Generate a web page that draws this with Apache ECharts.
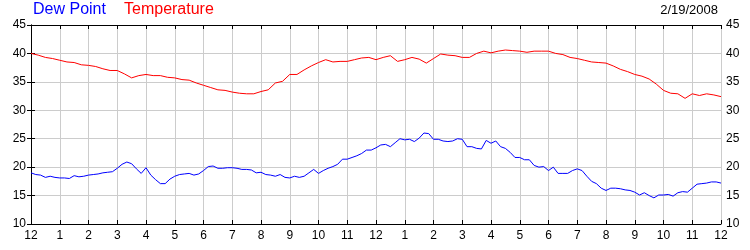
<!DOCTYPE html>
<html>
<head>
<meta charset="utf-8">
<script src="https://cdn.jsdelivr.net/npm/echarts@6/dist/echarts.min.js"></script>
<style>
html,body{margin:0;padding:0;background:#fff;}
#chart{width:750px;height:250px;}
</style>
</head>
<body>
<div id="chart"></div>
<script>
// Hour tick labels (0..24)
var hourLabels = ['12','1','2','3','4','5','6','7','8','9','10','11','12','1','2','3','4','5','6','7','8','9','10','11','12'];
var yTicks = [10, 15, 20, 25, 30, 35, 40, 45];
var dateLabel = '2/19/2008';

// Temperature, every 15 minutes from 12 AM to 12 AM
var temperature = [
  40.0, 39.7, 39.3, 39.1,
  38.8, 38.5, 38.4, 38.0,
  37.9, 37.7, 37.3, 37.0,
  37.0, 36.4, 35.7, 36.1,
  36.3, 36.1, 36.1, 35.8,
  35.7, 35.4, 35.3, 34.8,
  34.4, 34.0, 33.6, 33.5,
  33.2, 33.0, 32.9, 32.9,
  33.3, 33.6, 34.8, 35.1,
  36.3, 36.3, 37.1, 37.8,
  38.4, 38.9, 38.5, 38.6,
  38.6, 38.9, 39.2, 39.3,
  38.9, 39.3, 39.6, 38.6,
  38.9, 39.3, 39.0, 38.3,
  39.1, 39.9, 39.7, 39.6,
  39.3, 39.3, 40.0, 40.4,
  40.1, 40.4, 40.6, 40.5,
  40.4, 40.2, 40.4, 40.4,
  40.4, 40.0, 39.8, 39.3,
  39.1, 38.8, 38.5, 38.4,
  38.3, 37.8, 37.2, 36.8,
  36.3, 36.0, 35.5, 34.6,
  33.5, 33.0, 32.9, 32.1,
  32.9, 32.6, 32.9, 32.7,
  32.4
];

// Dew point, every 10 minutes from 12 AM to 12 AM
var dewPoint = [
  19.0, 18.7, 18.6, 18.2, 18.4, 18.2, 18.1, 18.1, 18.0, 18.5, 18.3, 18.4,
  18.6, 18.7, 18.8, 19.0, 19.1, 19.2, 19.8, 20.5, 20.9, 20.6, 19.7, 18.9,
  19.9, 18.6, 17.8, 17.1, 17.1, 17.9, 18.4, 18.7, 18.8, 18.9, 18.6, 18.8,
  19.4, 20.1, 20.2, 19.8, 19.8, 19.9, 19.9, 19.8, 19.6, 19.6, 19.5, 19.0,
  19.1, 18.7, 18.6, 18.4, 18.7, 18.2, 18.1, 18.4, 18.2, 18.4, 19.0, 19.6,
  18.9, 19.4, 19.8, 20.1, 20.5, 21.4, 21.4, 21.7, 22.0, 22.4, 23.0, 23.0,
  23.4, 23.9, 24.0, 23.6, 24.3, 25.0, 24.8, 24.9, 24.5, 25.1, 26.0, 25.9,
  24.9, 24.9, 24.6, 24.5, 24.6, 25.0, 24.9, 23.6, 23.6, 23.3, 23.2, 24.7,
  24.2, 24.6, 23.6, 23.3, 22.6, 21.7, 21.7, 21.3, 21.3, 20.3, 20.0, 20.1,
  19.4, 20.0, 18.9, 18.9, 18.9, 19.4, 19.7, 19.4, 18.4, 17.5, 17.1, 16.3,
  15.9, 16.3, 16.3, 16.2, 16.0, 15.9, 15.6, 15.1, 15.5, 15.0, 14.6, 15.1,
  15.1, 15.2, 14.9, 15.5, 15.7, 15.6, 16.3, 17.0, 17.1, 17.2, 17.4, 17.4,
  17.2
];

var tempData = temperature.map(function (v, i) { return [i * 0.25, v]; });
var dewData = dewPoint.map(function (v, i) { return [i / 6, v]; });

var FONT = '"Liberation Sans", Arial, sans-serif';
var chart = echarts.init(document.getElementById('chart'), null, {renderer: 'canvas'});

var yMin = yTicks[0], yMax = yTicks[yTicks.length - 1], yStep = yTicks[1] - yTicks[0];

function yAxisCfg(pos, showSplit) {
  return {
    type: 'value', position: pos, min: yMin, max: yMax, interval: yStep,
    axisLine: {show: true, lineStyle: {color: '#000', width: 1}},
    axisTick: {show: true, inside: true, length: 4, lineStyle: {color: '#000'}},
    axisLabel: {show: true, color: '#000', fontSize: 12, fontFamily: FONT, margin: 5},
    splitLine: {show: showSplit, lineStyle: {color: '#cccccc', width: 1}}
  };
}

chart.setOption({
  animation: false,
  backgroundColor: '#fff',
  grid: {left: 31, right: 29, top: 25, bottom: 26, containLabel: false},
  graphic: [
    {type: 'text', left: 33, top: 2, style: {text: 'Dew Point', fill: '#0000ff', font: '16px ' + FONT}},
    {type: 'text', left: 124, top: 2, style: {text: 'Temperature', fill: '#ff0000', font: '16px ' + FONT}},
    {type: 'text', right: 32, top: 4, style: {text: dateLabel, fill: '#000', font: '13px ' + FONT}}
  ],
  xAxis: [
    {
      type: 'value', position: 'bottom', min: 0, max: 24, interval: 1,
      axisLine: {show: true, onZero: false, lineStyle: {color: '#000', width: 1}},
      axisTick: {show: true, inside: true, length: 4, lineStyle: {color: '#000'}},
      axisLabel: {show: true, color: '#000', fontSize: 12, fontFamily: FONT, margin: 6,
        formatter: function (v) { return hourLabels[Math.round(v)]; }},
      splitLine: {show: true, lineStyle: {color: '#cccccc', width: 1}}
    },
    {
      type: 'value', position: 'top', min: 0, max: 24, interval: 1,
      axisLine: {show: true, onZero: false, lineStyle: {color: '#000', width: 1}},
      axisTick: {show: true, inside: true, length: 4, lineStyle: {color: '#000'}},
      axisLabel: {show: false},
      splitLine: {show: false}
    }
  ],
  yAxis: [yAxisCfg('left', true), yAxisCfg('right', false)],
  series: [
    {
      name: 'Dew Point', type: 'line', data: dewData, xAxisIndex: 0, yAxisIndex: 0,
      showSymbol: false, symbol: 'none', smooth: false,
      lineStyle: {color: '#0000ff', width: 1}, itemStyle: {color: '#0000ff'}
    },
    {
      name: 'Temperature', type: 'line', data: tempData, xAxisIndex: 0, yAxisIndex: 0,
      showSymbol: false, symbol: 'none', smooth: false,
      lineStyle: {color: '#ff0000', width: 1}, itemStyle: {color: '#ff0000'}
    }
  ]
});
</script>
</body>
</html>
